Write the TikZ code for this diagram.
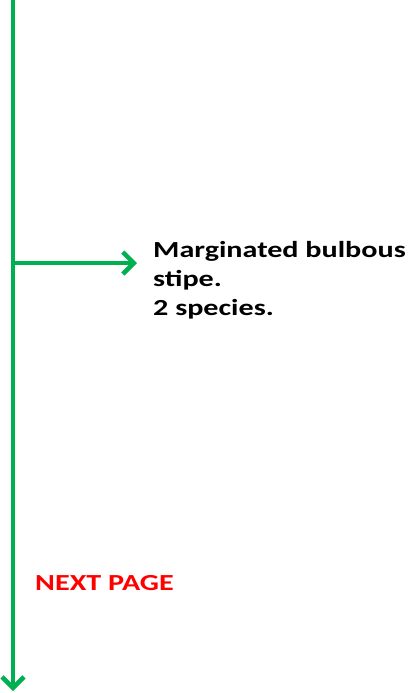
\documentclass[tikz,border=0pt]{standalone}
\usepackage{fontspec}
\setmainfont{Carlito}
\newfontfamily\keyfont[FakeStretch=1.31]{Carlito}
\usetikzlibrary{positioning}
\usetikzlibrary{arrows.meta}
\definecolor{keygreen}{RGB}{0,176,80}
\definecolor{keyred}{RGB}{255,0,0}

\begin{document}
\begin{tikzpicture}[x=1pt,y=1pt,
	keyline/.style={keygreen, line width=4.5pt, -{Straight Barb[length=11pt,width=22pt]}},
	keytext/.style={font=\keyfont\fontsize{23}{29}\selectfont\bfseries, inner sep=0pt, align=left}]
	\useasboundingbox (0,0) rectangle (417,-693);
	% Main Stem %
	\coordinate (top) at (13,2);
	\coordinate (bottom) at (13,-691);
	\coordinate (fork) at (13,-263);
	\coordinate (branch) at (137,-263);
	\draw [keyline] (top) -- (bottom);
	% Branch %
	\draw [keyline] (fork) -- (branch);
	\node (bulbous) [keytext, anchor=base west] at (153,-315) {Marginated bulbous\\stipe.\\2 species.};
	% Labels %
	\node (nextpage) [keytext, text=keyred, anchor=base west] at (35,-590) {NEXT PAGE};
\end{tikzpicture}
\end{document}
